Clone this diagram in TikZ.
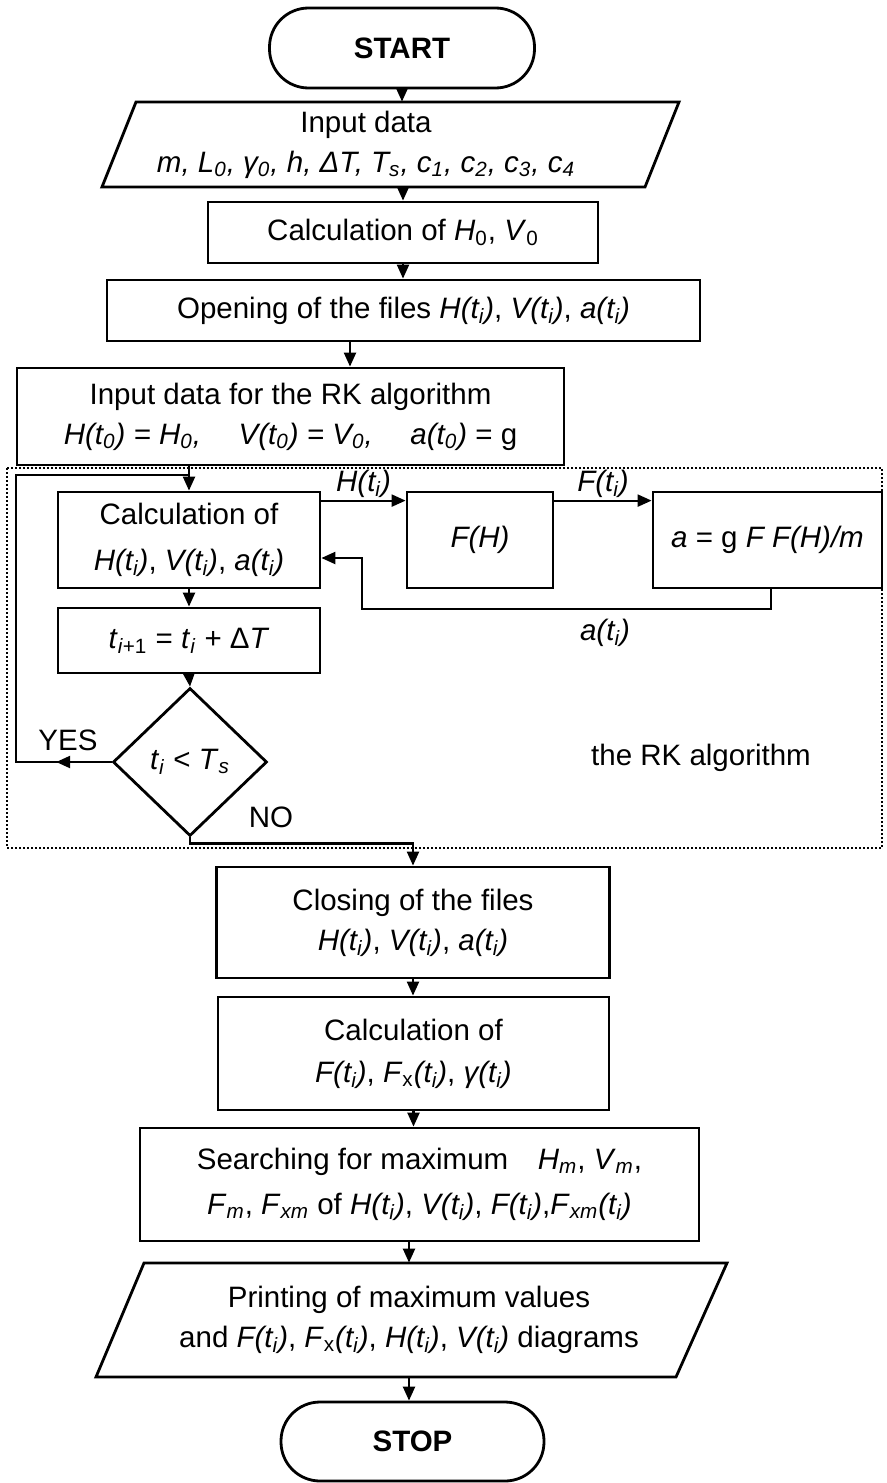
\documentclass[tikz,border=0pt]{standalone}
\usepackage{fontspec}
\setmainfont{Liberation Sans}
\usetikzlibrary{arrows.meta,shapes.geometric,calc}
\newcommand{\myti}[1]{\textit{#1(t\textsubscript{i})}}
\begin{document}
\begin{tikzpicture}[x=0.5pt,y=-0.5pt,
  every node/.style={font=\fontsize{14.75}{20}\selectfont, inner sep=0pt, text=black},
  box/.style={draw, line width=1.4pt, rectangle, align=center},
  term/.style={draw, line width=1.4pt, rectangle, rounded corners=19.5pt, font=\fontsize{14.75}{20}\selectfont\bfseries},
  iobox/.style={rectangle, align=center},
  para/.style={draw, line width=1.4pt, line join=miter},
  conn/.style={line width=1.1pt},
  arr/.style={conn, -{Triangle[length=7pt,width=6pt]}},
  decbox/.style={draw, diamond, line width=1.4pt, minimum width=77pt, minimum height=74pt},
  frame/.style={line width=0.6pt, dash pattern=on 1pt off 1pt}
]
\fill[white] (0,0) rectangle (887,1483);
\useasboundingbox (0,0) rectangle (887,1483);

% top part
\node[term, minimum width=132.5pt, minimum height=40pt] (start) at (402,48) {START};

\node[iobox, minimum height=42.5pt] (input) at (366,144.5)
  {Input data\\ {\itshape m, L\textsubscript{0}, γ\textsubscript{0}, h, ΔT, T\textsubscript{s}, c\textsubscript{1}, c\textsubscript{2}, c\textsubscript{3}, c\textsubscript{4}}};
\draw[para] ($(input)+(-230,-42.5)$) -- ($(input)+(313,-42.5)$) -- ($(input)+(279,42.5)$) -- ($(input)+(-264,42.5)$) -- cycle;

\node[box, minimum width=195pt, minimum height=30.5pt] (calc0) at (403,232.5)
  {Calculation of \textit{H}\textsubscript{0}, \textit{V}\textsubscript{0}};
\node[box, minimum width=296.5pt, minimum height=30.5pt] (open) at (403.5,310.5)
  {Opening of the files \myti{H}, \myti{V}, \myti{a}};
\node[box, minimum width=273.5pt, minimum height=48.5pt] (rkin) at (290.5,416.5)
  {Input data for the RK algorithm\\ \textit{H(t\textsubscript{0}) = H\textsubscript{0},}\quad\ \textit{V(t\textsubscript{0}) = V\textsubscript{0},}\quad\ \textit{a(t\textsubscript{0})} = g};

% RK frame
\draw[frame] (7,468) rectangle (882,848);

\node[box, minimum width=131pt, minimum height=48pt] (calc) at (189,540)
  {Calculation of\\[3pt] \myti{H}, \myti{V}, \myti{a}};
\node[box, minimum width=73pt, minimum height=48pt] (fh) at (480,540) {\textit{F(H)}};
\node[box, minimum width=114.5pt, minimum height=48pt] (abox) at (767.5,540)
  {\textit{a} = g \textit{F F(H)/m}};
\node[box, minimum width=131pt, minimum height=32.5pt] (tinc) at (189,640.5)
  {\textit{t}\textsubscript{\textit{i}+1} = \textit{t}\textsubscript{\textit{i}} + Δ\textit{T}};
\node[decbox] (dec) at (190,762) {\textit{t}\textsubscript{\textit{i}} < \textit{T}\textsubscript{\textit{s}}};

\node (yes) at (68,740) {YES};
\node (no) at (271,817) {NO};
\node (rklab) at (701,758) {the RK algorithm};
\node (alab) at (605,633) {\myti{a}};

% lower part
\node[box, minimum width=196.5pt, minimum height=55.5pt] (close) at (413,922.5)
  {Closing of the files\\ \myti{H}, \myti{V}, \myti{a}};
\node[box, minimum width=195.5pt, minimum height=56.5pt] (calcF) at (413.5,1053.5)
  {Calculation of\\[1pt] \myti{F}, \textit{F}\textsubscript{x}\textit{(t\textsubscript{i})}, \myti{γ}};
\node[box, minimum width=279.5pt, minimum height=56.5pt] (search) at (419.5,1184.5)
  {Searching for maximum\quad \textit{H}\textsubscript{\textit{m}}, \textit{V}\textsubscript{\textit{m}},\\[2.5pt]
   \textit{F}\textsubscript{\textit{m}}, \textit{F}\textsubscript{\textit{xm}} of \myti{H}, \myti{V}, \myti{F},\textit{F}\textsubscript{\textit{xm}}\textit{(t\textsubscript{i})}};
\node[iobox, minimum height=57pt] (print) at (409,1320)
  {Printing of maximum values\\ and \myti{F}, \textit{F}\textsubscript{x}\textit{(t\textsubscript{i})}, \myti{H}, \myti{V} diagrams};
\draw[para] ($(print)+(-265,-57)$) -- ($(print)+(318,-57)$) -- ($(print)+(267,57)$) -- ($(print)+(-313,57)$) -- cycle;
\node[term, minimum width=131.5pt, minimum height=39.5pt] (stop) at (412.5,1441.5) {STOP};

% connectors
\draw[arr] (start.south) -- (start.south |- input.north);
\draw[arr] (input.south -| calc0.north) -- (calc0.north);
\draw[arr] (calc0.south) -- (calc0.south |- open.north);
\draw[arr] ([xshift=-26.75pt]open.south) -- ([xshift=-26.75pt]open.south |- rkin.north);
\draw[arr] (rkin.south -| calc.north) -- (calc.north);
\draw[arr] ([yshift=-5pt]calc.north east) -- ([yshift=-5pt]calc.north east -| fh.west)
  node[midway, above=1pt] {\myti{H}};
\draw[arr] ([yshift=-5pt]fh.north east) -- ([yshift=-5pt]fh.north east -| abox.west)
  node[midway, above=1pt] {\myti{F}};
\coordinate (fbc) at (362,609);
\draw[arr] ([xshift=59.5pt]abox.south west) |- (fbc) |- ([yshift=-9pt]calc.east);
\draw[arr] (calc.south) -- (tinc.north);
\draw[arr] (tinc.south) -- (dec.north);
\coordinate (yesend) at (16,762);
\coordinate (looptop) at (16,475);
\draw[conn] (dec.west) -- (yesend) -- (looptop) -- (looptop -| calc.north);
\draw[arr] (dec.west) -- ($(dec.west)!0.58!(yesend)$);
\draw[arr] (dec.south) -- ++(0,6) -| (close.north);
\draw[arr] (close.south) -- (close.south |- calcF.north);
\draw[arr] (calcF.south) -- (calcF.south |- search.north);
\draw[arr] (search.south -| print.north) -- (print.north);
\draw[arr] (print.south) -- (print.south |- stop.north);
\end{tikzpicture}
\end{document}
